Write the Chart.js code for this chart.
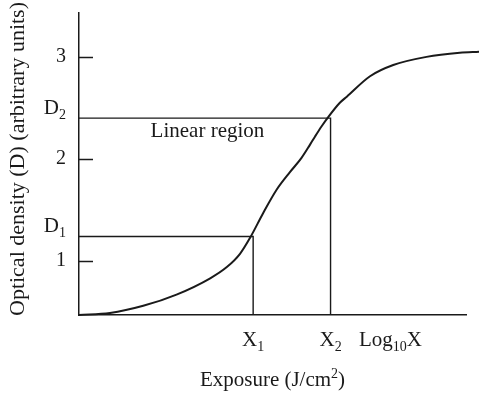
<!DOCTYPE html>
<html>
<head>
<meta charset="utf-8">
<script src="https://cdn.jsdelivr.net/npm/chart.js@4"></script>
<style>
  body { margin: 0; background: #fff; }
  canvas { display: block; }
</style>
</head>
<body>
<canvas id="curve" width="479" height="393"></canvas>
<script>
// characteristic (H&D) curve: log exposure vs optical density
const curveX = [0, 0.80, 1.66, 2.52, 3.39, 3.82, 4.16, 4.44, 4.76, 5.11, 5.45, 5.75, 5.97, 6.10, 6.27, 6.42, 6.74, 6.92, 7.52, 8.12, 8.98, 9.84, 10.34];
const curveD = [0.47, 0.49, 0.56, 0.67, 0.83, 0.94, 1.07, 1.24, 1.47, 1.70, 1.87, 2.01, 2.14, 2.22, 2.32, 2.40, 2.55, 2.61, 2.81, 2.92, 3.00, 3.04, 3.05];

// ends of the linear region
const exposureMarks = [4.5, 6.5];        // X1, X2
const densityMarks = [1.24, 2.40];       // D1, D2
const markLabelsX = ['X_{1}', 'X_{2}'];
const markLabelsD = ['D_{1}', 'D_{2}'];

const yTicks = [1, 2, 3];
const axisEndLabel = 'Log_{10}X';
const axisEndValue = 8.05;
const xTitle = 'Exposure (J/cm^{2})';
const yTitle = 'Optical density (D) (arbitrary units)';
const regionText = 'Linear region';
const regionAt = [1.85, 2.21];

const xMin = 0, xMax = 10;
const yMin = 0.47, yMax = 3.43;

const ink = '#1a1a1a';
const serif = "'Liberation Serif', serif";
const mainFont = '21px ' + serif;
const smallFont = '14px ' + serif;

// draws text where _{..} is set lowered and ^{..} raised
function drawRich(ctx, text, x, y, align) {
  const parts = text.split(/(_\{[^}]*\}|\^\{[^}]*\})/).filter(p => p.length).map(p => {
    if (p.startsWith('_{')) return { t: p.slice(2, -1), dy: 5 };
    if (p.startsWith('^{')) return { t: p.slice(2, -1), dy: -8 };
    return { t: p, dy: 0 };
  });
  const widths = parts.map(p => {
    ctx.font = p.dy ? smallFont : mainFont;
    return ctx.measureText(p.t).width;
  });
  const total = widths.reduce((a, b) => a + b, 0);
  let cx = align === 'right' ? x - total : align === 'center' ? x - total / 2 : x;
  ctx.textAlign = 'left';
  ctx.textBaseline = 'alphabetic';
  parts.forEach((p, i) => {
    ctx.font = p.dy ? smallFont : mainFont;
    ctx.fillText(p.t, cx, y + p.dy);
    cx += widths[i];
  });
}

const annotate = {
  id: 'annotate',
  afterDraw(chart) {
    const { ctx, chartArea } = chart;
    const x = chart.scales.x, y = chart.scales.y;
    ctx.save();
    ctx.strokeStyle = ink;
    ctx.fillStyle = ink;
    ctx.lineWidth = 1.5;

    // tick marks point into the plot
    yTicks.forEach(v => {
      const py = Math.round(y.getPixelForValue(v)) + 0.5;
      ctx.beginPath();
      ctx.moveTo(chartArea.left, py);
      ctx.lineTo(chartArea.left + 14, py);
      ctx.stroke();
    });

    densityMarks.forEach((v, i) => {
      drawRich(ctx, markLabelsD[i], chartArea.left - 13, y.getPixelForValue(v) - 4, 'right');
    });
    exposureMarks.forEach((v, i) => {
      drawRich(ctx, markLabelsX[i], x.getPixelForValue(v), chartArea.bottom + 31, 'center');
    });
    drawRich(ctx, axisEndLabel, x.getPixelForValue(axisEndValue), chartArea.bottom + 31, 'center');
    drawRich(ctx, xTitle, (chartArea.left + chartArea.right) / 2, chartArea.bottom + 71, 'center');
    drawRich(ctx, regionText, x.getPixelForValue(regionAt[0]), y.getPixelForValue(regionAt[1]), 'left');

    // vertical axis title
    ctx.save();
    ctx.translate(24, 159);
    ctx.rotate(-Math.PI / 2);
    ctx.font = '22px ' + serif;
    ctx.textAlign = 'center';
    ctx.textBaseline = 'alphabetic';
    ctx.fillText(yTitle, 0, 0);
    ctx.restore();

    ctx.restore();
  }
};

const toPoints = (xs, ys) => xs.map((v, i) => ({ x: v, y: ys[i] }));

const guide = (xv, dv) => ({
  data: [{ x: xMin, y: dv }, { x: xv, y: dv }, { x: xv, y: yMin }],
  borderColor: ink,
  borderWidth: 1.4,
  pointRadius: 0,
  tension: 0
});

new Chart(document.getElementById('curve'), {
  type: 'line',
  data: {
    datasets: [
      {
        data: toPoints(curveX, curveD),
        borderColor: ink,
        borderWidth: 2,
        pointRadius: 0,
        cubicInterpolationMode: 'monotone',
        clip: false
      },
      guide(exposureMarks[0], densityMarks[0]),
      guide(exposureMarks[1], densityMarks[1])
    ]
  },
  options: {
    responsive: false,
    animation: false,
    layout: { padding: { top: 13, right: 13, left: 0, bottom: 0 } },
    plugins: { legend: { display: false }, tooltip: { enabled: false } },
    scales: {
      x: {
        type: 'linear',
        min: xMin,
        max: xMax,
        ticks: { display: false },
        grid: { drawOnChartArea: false, drawTicks: false },
        border: { color: ink, width: 1.5 },
        afterFit: s => { s.height = 78; }
      },
      y: {
        type: 'linear',
        min: yMin,
        max: yMax,
        afterBuildTicks: s => { s.ticks = yTicks.map(v => ({ value: v })); },
        ticks: {
          color: ink,
          padding: 13,
          font: { family: serif, size: 20 },
          callback: v => String(v)
        },
        grid: { drawOnChartArea: false, drawTicks: false },
        border: { color: ink, width: 1.5 },
        afterFit: s => { s.width = 79; s.paddingTop = 0; s.paddingBottom = 0; }
      }
    }
  },
  plugins: [annotate]
});
</script>
</body>
</html>
